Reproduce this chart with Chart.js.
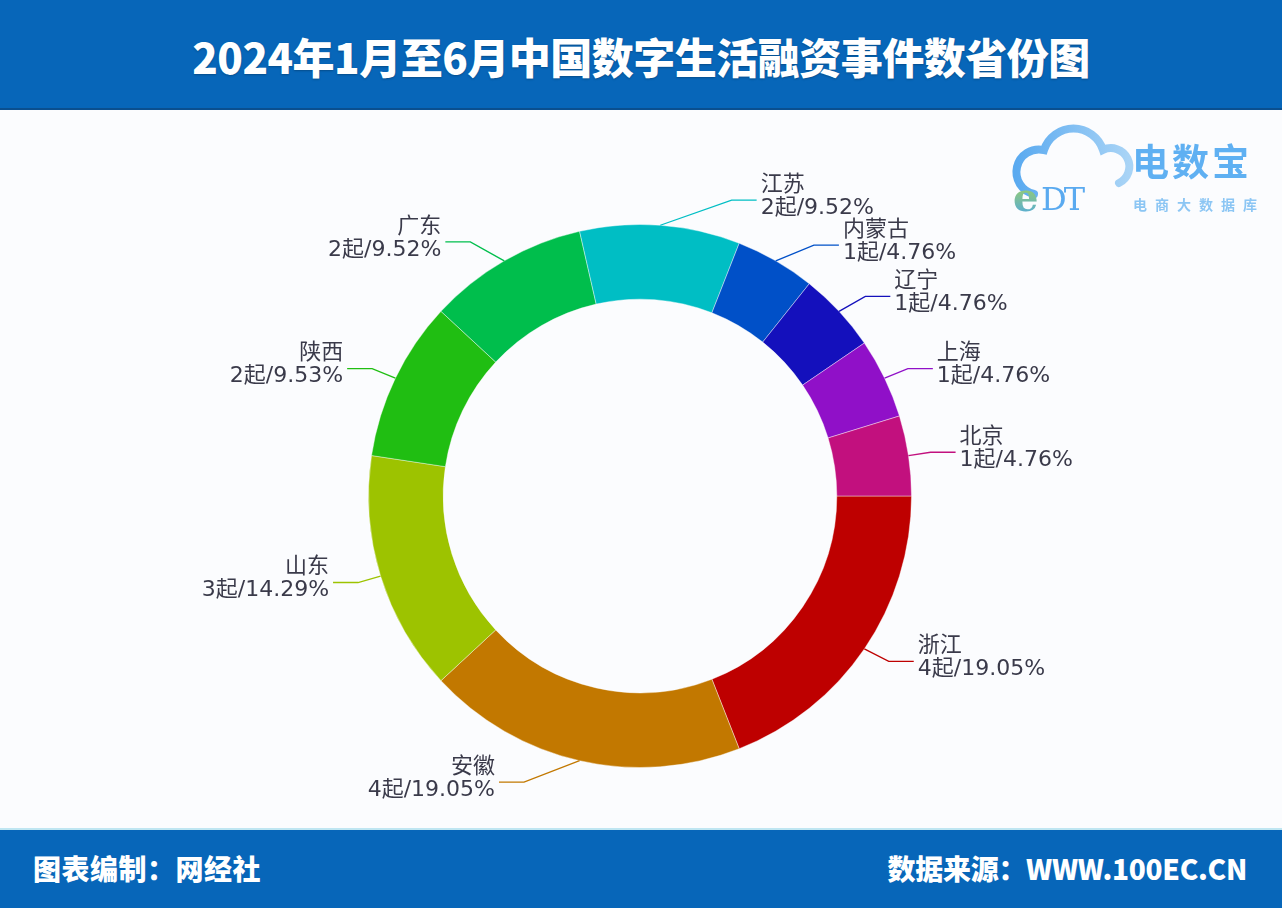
<!DOCTYPE html>
<html lang="zh-CN">
<head>
<meta charset="utf-8">
<title>2024年1月至6月中国数字生活融资事件数省份图</title>
<script src="https://cdn.jsdelivr.net/npm/chart.js@4.4.1/dist/chart.umd.min.js"></script>
<style>
  html, body { margin: 0; padding: 0; background: #fbfcfe; }
  #wrap { position: relative; width: 1282px; height: 908px; overflow: hidden; background: #fbfcfe; }
  #chartBox { position: absolute; left: 0; top: 0; width: 1282px; height: 908px; }
  #header { position: absolute; left: 0; top: 0; width: 1282px; height: 110px; background: #0766b9;
            border-bottom: 2px solid #0a4f8f; box-sizing: border-box; }
  #title { position: absolute; left: 0; top: 0; width: 1282px; height: 110px; line-height: 112px; text-align: center;
           color: #ffffff; font-family: "Noto Sans CJK SC", sans-serif; font-weight: 900; font-size: 42px;
           letter-spacing: -0.5px; text-shadow: 0 1px 2px rgba(0,0,0,0.25); }
  #footer { position: absolute; left: 0; top: 828px; width: 1282px; height: 80px; background: #0766b9;
            border-top: 2px solid #bfe6f2; box-sizing: border-box; }
  .foot { position: absolute; top: 0; height: 78px; line-height: 76px; color: #fff;
          font-family: "Noto Sans CJK SC", sans-serif; font-weight: 900; font-size: 28px; }
  #footL { left: 33px; letter-spacing: 0.5px; }
  #footR { right: 35px; letter-spacing: -0.3px; }
  #logo { position: absolute; left: 1000px; top: 112px; width: 282px; height: 110px; }
</style>
</head>
<body>
<div id="wrap">
  <div id="chartBox"><canvas id="c"></canvas></div>
  <div id="header"><div id="title">2024年1月至6月中国数字生活融资事件数省份图</div></div>
  <svg id="logo" viewBox="1000 112 282 110" xmlns="http://www.w3.org/2000/svg">
    <defs>
      <linearGradient id="eg" x1="0" y1="0" x2="0" y2="1">
        <stop offset="0" stop-color="#b6dc3c"/>
        <stop offset="1" stop-color="#4aa6ee"/>
      </linearGradient>
      <linearGradient id="cg" x1="0" y1="0" x2="1" y2="0">
        <stop offset="0" stop-color="#5aaaf0"/>
        <stop offset="1" stop-color="#a9d4f6"/>
      </linearGradient>
    </defs>
    <path d="M1034,194 A22,22 0 0,1 1044,150 A31,31 0 0,1 1103,150 A17,17 0 0,1 1119,183"
          fill="none" stroke="url(#cg)" stroke-width="8" stroke-linecap="round"/>
    <text x="1013" y="211" font-family="'DejaVu Serif', serif" font-size="40" font-weight="bold" fill="url(#eg)">e</text>
    <text x="1041" y="210" font-family="'DejaVu Serif', serif" font-size="32" fill="#5aaaf0" letter-spacing="-3">DT</text>
    <text x="1132" y="176" font-family="'Noto Sans CJK SC', sans-serif" font-size="37" font-weight="bold" fill="#5fb0f2" letter-spacing="3">电数宝</text>
    <text x="1133" y="210" font-family="'Noto Sans CJK SC', sans-serif" font-size="14" font-weight="bold" fill="#8cc6f4" letter-spacing="8">电商大数据库</text>
  </svg>
  <div id="footer">
    <div class="foot" id="footL">图表编制：网经社</div>
    <div class="foot" id="footR">数据来源：WWW.100EC.CN</div>
  </div>
</div>
<script>
// ---- data ----
const provinces = ['浙江', '安徽', '山东', '陕西', '广东', '江苏', '内蒙古', '辽宁', '上海', '北京'];
const counts    = [4, 4, 3, 2, 2, 2, 1, 1, 1, 1];
const percents  = ['19.05', '19.05', '14.29', '9.53', '9.52', '9.52', '4.76', '4.76', '4.76', '4.76'];
const colors    = ['#be0000', '#c27800', '#9dc300', '#20be12', '#00be4c', '#00bec4', '#0050c8', '#1410bc', '#9010c8', '#c2107e'];

// ---- outside labels with leader lines, positioned from the arc geometry ----
const LEN1 = 22;      // first leader segment (radial)
const LEN2 = 25;      // second leader segment (horizontal)
const MIN_GAP = 45;   // minimal vertical distance between two labels on the same side
const outLabels = {
  id: 'outLabels',
  afterDatasetsDraw(chart) {
    const ctx = chart.ctx;
    const meta = chart.getDatasetMeta(0);
    const items = meta.data.map((arc, i) => {
      const p = arc.getProps(['x', 'y', 'startAngle', 'endAngle', 'outerRadius'], true);
      const mid = (p.startAngle + p.endAngle) / 2;
      const cos = Math.cos(mid), sin = Math.sin(mid);
      const rA = p.outerRadius + LEN1;
      return {
        i, cx: p.x, cy: p.y, rA, rB: rA + 18,
        px: p.x + cos * p.outerRadius, py: p.y + sin * p.outerRadius,
        dir: cos >= 0 ? 1 : -1, ly: p.y + sin * rA
      };
    });
    // simple overlap avoidance per side
    [1, -1].forEach(d => {
      const side = items.filter(o => o.dir === d).sort((a, b) => a.ly - b.ly);
      for (let iter = 0; iter < 20; iter++) {
        let moved = false;
        for (let k = 0; k < side.length - 1; k++) {
          const gap = side[k + 1].ly - side[k].ly;
          if (gap < MIN_GAP) {
            const s = (MIN_GAP - gap) / 2;
            side[k].ly -= s; side[k + 1].ly += s; moved = true;
          }
        }
        if (!moved) break;
      }
    });
    ctx.save();
    items.forEach(o => {
      const dy = o.ly - o.cy;
      const dx = Math.sqrt(Math.max(0, 1 - (dy * dy) / (o.rB * o.rB))) * o.rA;
      const ex = o.cx + o.dir * dx;
      const endX = ex + o.dir * LEN2;

      ctx.strokeStyle = colors[o.i];
      ctx.lineWidth = 1.3;
      ctx.beginPath();
      ctx.moveTo(o.px, o.py);
      ctx.lineTo(ex, o.ly);
      ctx.lineTo(endX, o.ly);
      ctx.stroke();

      ctx.fillStyle = '#3a3a4a';
      ctx.font = "22px 'DejaVu Sans', 'Noto Sans CJK SC', sans-serif";
      ctx.textBaseline = 'middle';
      ctx.textAlign = o.dir > 0 ? 'left' : 'right';
      const tx = endX + o.dir * 4;
      ctx.fillText(provinces[o.i], tx, o.ly - 15);
      ctx.fillText(counts[o.i] + '起/' + percents[o.i] + '%', tx, o.ly + 8);
    });
    ctx.restore();
  }
};

new Chart(document.getElementById('c'), {
  type: 'doughnut',
  data: {
    labels: provinces,
    datasets: [{
      data: counts,
      backgroundColor: colors,
      borderColor: 'rgba(255,255,255,0.4)',
      borderWidth: 1,
      hoverOffset: 0
    }]
  },
  options: {
    responsive: true,
    maintainAspectRatio: false,
    animation: false,
    rotation: 90,
    cutout: '72.5%',
    layout: { padding: { top: 224, bottom: 140, left: 368, right: 370 } },
    plugins: {
      legend: { display: false },
      tooltip: { enabled: false },
      title: { display: false }
    }
  },
  plugins: [outLabels]
});
</script>
</body>
</html>
